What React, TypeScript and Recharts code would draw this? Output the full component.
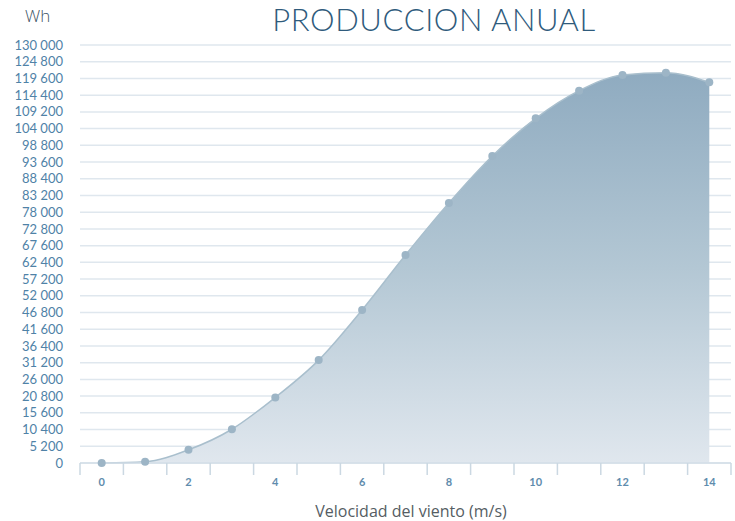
import { AreaChart, Area, XAxis, YAxis, CartesianGrid } from 'recharts';

// Wind speed (m/s) and annual production (Wh)
const windSpeeds = [0, 1, 2, 3, 4, 5, 6, 7, 8, 9, 10, 11, 12, 13, 14];
const production = [0, 400, 4100, 10500, 20400, 32000, 47600, 64700, 80900, 95500, 107200, 115800, 120700, 121400, 118400];

const yTicks = [
  0, 5200, 10400, 15600, 20800, 26000, 31200, 36400, 41600, 46800, 52000, 57200, 62400,
  67600, 72800, 78000, 83200, 88400, 93600, 98800, 104000, 109200, 114400, 119600, 124800, 130000,
];
const xLabelTicks = [0, 2, 4, 6, 8, 10, 12, 14];
const xBoundaryTicks = [-0.5, 0.5, 1.5, 2.5, 3.5, 4.5, 5.5, 6.5, 7.5, 8.5, 9.5, 10.5, 11.5, 12.5, 13.5, 14.5];
const xTicks = [...xBoundaryTicks, ...xLabelTicks].sort((a, b) => a - b);

const data = windSpeeds.map((v, i) => ({ speed: v, wh: production[i] }));

const formatWh = (value: number) => value.toLocaleString('en-US').replace(/,/g, ' ');

const font = 'Lato, "Open Sans", sans-serif';

const TICK_SIZE = 12;
const TICK_MARGIN = 1;

// boundary values draw a tick mark, whole values draw the label
function SpeedTick(props: any) {
  const { x, y, payload } = props;
  const v = payload.value;
  if (!Number.isInteger(v)) {
    const axisY = y - TICK_SIZE - TICK_MARGIN;
    return <line x1={x} x2={x} y1={axisY} y2={axisY + TICK_SIZE} stroke="#cbd8e2" strokeWidth={1.5} />;
  }
  return (
    <text x={x} y={y} dy="0.9em" textAnchor="middle" fontSize={11} fontWeight={700} fill="#5f8cad" fontFamily={font}>
      {v}
    </text>
  );
}

export default function App() {
  return (
    <div style={{ position: 'relative', width: 735, height: 521, fontFamily: font, overflow: 'hidden' }}>
      <style>{`body { margin: 0; }`}</style>
      <div style={{ position: 'absolute', left: 25, top: 4, fontSize: 17, color: '#3d5466', fontFamily: '"Open Sans", sans-serif', fontWeight: 300 }}>Wh</div>
      <div
        style={{
          position: 'absolute',
          left: 0,
          width: 868,
          top: 0,
          textAlign: 'center',
          fontSize: 31,
          fontWeight: 300,
          letterSpacing: 0.6,
          color: '#2f5b7c',
        }}
      >
        PRODUCCION ANUAL
      </div>
      <AreaChart width={735} height={521} data={data} margin={{ top: 45, right: 4, left: 0, bottom: 28 }}>
        <defs>
          <linearGradient id="areaFill" x1="0" y1="0" x2="0" y2="1">
            <stop offset="0%" stopColor="#8fabc0" />
            <stop offset="50%" stopColor="#b3c7d4" />
            <stop offset="100%" stopColor="#e0e7ee" />
          </linearGradient>
        </defs>
        <CartesianGrid vertical={false} stroke="#dfe7ee" strokeWidth={1.5} />
        <XAxis
          dataKey="speed"
          type="number"
          domain={[-0.5, 14.5]}
          ticks={xTicks}
          interval={0}
          height={30}
          tickLine={false}
          axisLine={{ stroke: '#d3dee7', strokeWidth: 1.5 }}
          tickSize={TICK_SIZE}
          tickMargin={TICK_MARGIN}
          tick={<SpeedTick />}
        />
        <YAxis
          type="number"
          domain={[0, 130000]}
          ticks={yTicks}
          interval={0}
          width={80}
          tickLine={false}
          axisLine={false}
          tickMargin={11}
          tickFormatter={formatWh}
          tick={{ fontSize: 13, fill: '#4f82a7', fontFamily: font }}
        />
        <Area
          type="monotone"
          dataKey="wh"
          stroke="#a9bfcd"
          strokeWidth={1.5}
          fill="url(#areaFill)"
          fillOpacity={1}
          dot={{ r: 4, fill: '#9db5c6', stroke: 'none' }}
          activeDot={false}
          isAnimationActive={false}
        />
      </AreaChart>
      <div
        style={{
          position: 'absolute',
          left: 0,
          width: 822,
          top: 500,
          textAlign: 'center',
          fontSize: 16,
          color: '#555d63',
          fontFamily: '"Open Sans", sans-serif',
        }}
      >
        Velocidad del viento (m/s)
      </div>
    </div>
  );
}
